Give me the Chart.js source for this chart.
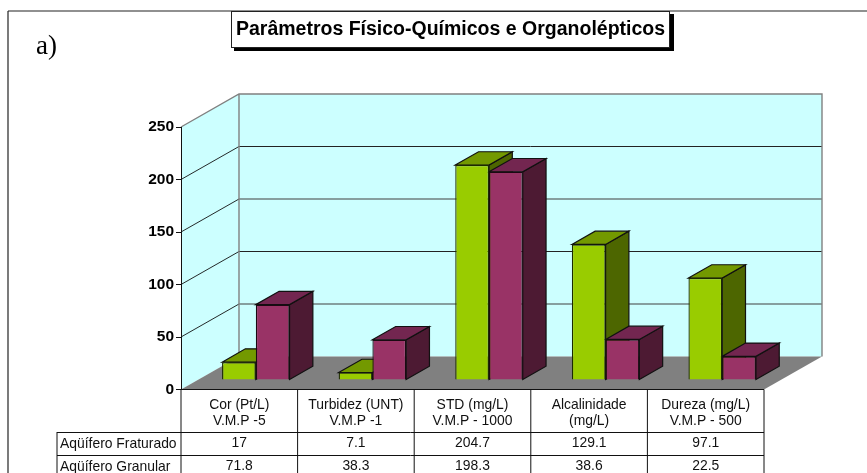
<!DOCTYPE html>
<html>
<head>
<meta charset="utf-8">
<title>Parâmetros Físico-Químicos e Organolépticos</title>
<script src="https://cdn.jsdelivr.net/npm/chart.js@4"></script>
<style>
  html, body { margin: 0; padding: 0; background: #fff; overflow: hidden; }
  canvas { display: block; }
</style>
</head>
<body>
<canvas id="chart" width="867" height="473"></canvas>
<script>
const TITLE = 'Parâmetros Físico-Químicos e Organolépticos';
const PANEL_LABEL = 'a)';
const CATEGORIES = [
  ['Cor (Pt/L)', 'V.M.P -5'],
  ['Turbidez (UNT)', 'V.M.P -1'],
  ['STD (mg/L)', 'V.M.P - 1000'],
  ['Alcalinidade', '(mg/L)'],
  ['Dureza (mg/L)', 'V.M.P - 500'],
];
const SERIES_NAMES = ['Aqüífero Fraturado', 'Aqüífero Granular'];
const FRATURADO = [17, 7.1, 204.7, 129.1, 97.1];
const GRANULAR = [71.8, 38.3, 198.3, 38.6, 22.5];
const Y_TICKS = [0, 50, 100, 150, 200, 250];

const SANS = '"Liberation Sans", Arial, sans-serif';
const WALL_DX = 58, WALL_DY = 33;    // depth of the 3D box
const BAR_DX = 23.3, BAR_DY = 13.3;  // depth of one bar
const SHIFT_X = 16.5, SHIFT_Y = 9.5; // bars stand inside the floor, not on its front edge
const ROW_TOPS = [432, 455, 478];    // data table rows below the header

function poly(ctx, pts, fill, stroke, lineWidth) {
  ctx.beginPath();
  pts.forEach((p, i) => i ? ctx.lineTo(p[0], p[1]) : ctx.moveTo(p[0], p[1]));
  ctx.closePath();
  if (fill) { ctx.fillStyle = fill; ctx.fill(); }
  if (stroke) { ctx.strokeStyle = stroke; ctx.lineWidth = lineWidth || 1; ctx.stroke(); }
}

function line(ctx, x1, y1, x2, y2, color, width) {
  ctx.beginPath();
  ctx.moveTo(x1, y1);
  ctx.lineTo(x2, y2);
  ctx.strokeStyle = color;
  ctx.lineWidth = width || 1;
  ctx.stroke();
}

// frame, "a)" and the title box
const framePlugin = {
  id: 'frame',
  beforeDraw(chart) {
    const ctx = chart.ctx;
    line(ctx, 8, 11, 867, 11, '#222', 1.2);
    line(ctx, 8, 11, 8, 473, '#222', 1.2);

    ctx.fillStyle = '#000';
    ctx.fillRect(234, 14, 440, 37);
    ctx.fillStyle = '#fff';
    ctx.fillRect(231, 11, 439, 36);
    ctx.strokeStyle = '#222';
    ctx.lineWidth = 1;
    ctx.strokeRect(231.5, 11.5, 438, 36);

    ctx.fillStyle = '#000';
    ctx.font = '27px "Liberation Serif", "Times New Roman", serif';
    ctx.textAlign = 'left';
    ctx.textBaseline = 'alphabetic';
    ctx.fillText(PANEL_LABEL, 36, 54);
  },
};

// walls, floor, gridlines and the depth faces of the bars
const boxPlugin = {
  id: 'box3d',
  beforeDatasetsDraw(chart) {
    const ctx = chart.ctx;
    const { left, right } = chart.chartArea;
    const yScale = chart.scales.y;
    const y0 = yScale.getPixelForValue(0);
    const yTop = yScale.getPixelForValue(Y_TICKS[Y_TICKS.length - 1]);
    const bx = left + WALL_DX, bxr = right + WALL_DX;

    // side and back wall
    poly(ctx, [[left, yTop], [bx, yTop - WALL_DY], [bx, y0 - WALL_DY], [left, y0]], '#ccffff');
    ctx.fillStyle = '#ccffff';
    ctx.fillRect(bx, yTop - WALL_DY, bxr - bx, y0 - yTop);

    // gridlines
    Y_TICKS.slice(1, -1).forEach(v => {
      const y = yScale.getPixelForValue(v);
      line(ctx, left, y, bx, y - WALL_DY, '#111', 0.9);
      const dark = v === 200 || v === 100;
      line(ctx, bx, y - WALL_DY, bxr, y - WALL_DY, dark ? '#222' : '#6f7f7f', dark ? 1 : 1.4);
    });

    // wall outline
    ctx.strokeStyle = '#808080';
    ctx.lineWidth = 1.4;
    ctx.beginPath();
    ctx.moveTo(left, yTop);
    ctx.lineTo(bx, yTop - WALL_DY);
    ctx.lineTo(bxr, yTop - WALL_DY);
    ctx.lineTo(bxr, y0 - WALL_DY);
    ctx.moveTo(bx, yTop - WALL_DY);
    ctx.lineTo(bx, y0 - WALL_DY);
    ctx.stroke();

    // floor
    poly(ctx, [[left, y0], [bx, y0 - WALL_DY], [bxr, y0 - WALL_DY], [right, y0]], '#808080');

    // the walls paint over the axis line, so put it back
    line(ctx, left + 0.5, yTop, left + 0.5, y0, '#111', 1);

    // sides and tops of the bars, left series first, under the front faces
    ctx.save();
    ctx.translate(SHIFT_X, -SHIFT_Y);
    chart.data.datasets.forEach((ds, di) => {
      chart.getDatasetMeta(di).data.forEach(bar => {
        const { x, y, base, width } = bar.getProps(['x', 'y', 'base', 'width'], true);
        const l = x - width / 2, r = x + width / 2;
        poly(ctx, [[r, y], [r + BAR_DX, y - BAR_DY], [r + BAR_DX, base - BAR_DY], [r, base]], ds.faces.side, '#111', 1.2);
        poly(ctx, [[l, y], [l + BAR_DX, y - BAR_DY], [r + BAR_DX, y - BAR_DY], [r, y]], ds.faces.top, '#111', 1.2);
      });
    });
    ctx.restore();
  },
  // front faces are drawn by chart.js, just moved back onto the floor
  beforeDatasetDraw(chart) {
    chart.ctx.save();
    chart.ctx.translate(SHIFT_X, -SHIFT_Y);
  },
  afterDatasetDraw(chart) {
    chart.ctx.restore();
  },
};

// the data table under the x axis
const tablePlugin = {
  id: 'dataTable',
  afterDraw(chart) {
    const ctx = chart.ctx;
    const { left, right, bottom } = chart.chartArea;
    const x = chart.scales.x;
    const colW = (right - left) / CATEGORIES.length;
    const tableLeft = 57;
    const color = '#111';

    line(ctx, left, bottom, right, bottom, color, 1.2);
    ROW_TOPS.forEach(y => line(ctx, tableLeft, y + 0.5, right, y + 0.5, color, 1));
    line(ctx, tableLeft, ROW_TOPS[0], tableLeft, 473, color, 1);
    for (let i = 0; i <= CATEGORIES.length; i++) {
      const cx = left + i * colW;
      line(ctx, cx, bottom, cx, 473, color, 1);
    }

    ctx.fillStyle = '#111';
    ctx.font = '13.9px ' + SANS;
    ctx.textBaseline = 'middle';
    [FRATURADO, GRANULAR].forEach((vals, r) => {
      const yMid = (ROW_TOPS[r] + ROW_TOPS[r + 1]) / 2;
      ctx.textAlign = 'left';
      ctx.fillText(SERIES_NAMES[r], 60, yMid + 0.5);
      ctx.textAlign = 'center';
      vals.forEach((v, i) => ctx.fillText(String(v), x.getPixelForTick(i), yMid));
    });
  },
};

Chart.defaults.animation = false;

new Chart(document.getElementById('chart'), {
  type: 'bar',
  data: {
    labels: CATEGORIES,
    datasets: [
      {
        label: SERIES_NAMES[0],
        data: FRATURADO,
        backgroundColor: '#99cc00',
        borderColor: '#1c2a00',
        borderWidth: 1.3,
        faces: { top: '#739900', side: '#4d6600' },
      },
      {
        label: SERIES_NAMES[1],
        data: GRANULAR,
        backgroundColor: '#993366',
        borderColor: '#1a0a12',
        borderWidth: 1.3,
        faces: { top: '#732650', side: '#4d1a33' },
      },
    ],
  },
  options: {
    responsive: false,
    clip: false,
    layout: { padding: { left: 0, right: 103, top: 0, bottom: 0 } },
    datasets: { bar: { categoryPercentage: 0.579, barPercentage: 1 } },
    plugins: {
      legend: { display: false },
      tooltip: { enabled: false },
      title: {
        display: true,
        text: TITLE,
        color: '#000',
        font: { family: SANS, size: 19.5, weight: 'bold' },
        padding: { top: 18.3, bottom: 85.3 },
      },
    },
    scales: {
      x: {
        offset: true,
        afterFit(scale) { scale.height = 83.5; },
        grid: { display: false },
        border: { display: false },
        ticks: { color: '#111', font: { family: SANS, size: 13.9 }, maxRotation: 0, autoSkip: false, padding: -1 },
      },
      y: {
        min: 0,
        max: 250,
        afterFit(scale) { scale.width = 181; },
        afterBuildTicks(scale) { scale.ticks = Y_TICKS.map(value => ({ value })); },
        grid: { drawOnChartArea: false, color: '#111', tickLength: 5 },
        border: { color: '#111', width: 1 },
        ticks: { color: '#000', font: { family: SANS, size: 15.5, weight: 'bold' }, padding: 2 },
      },
    },
  },
  plugins: [framePlugin, boxPlugin, tablePlugin, {
    id: 'titleShift',
    // title box is centred over the plot rather than the page
    afterLayout(chart) {
      chart.titleBlock.left += 68.5;
      chart.titleBlock.right += 68.5;
    },
  }],
});
</script>
</body>
</html>
